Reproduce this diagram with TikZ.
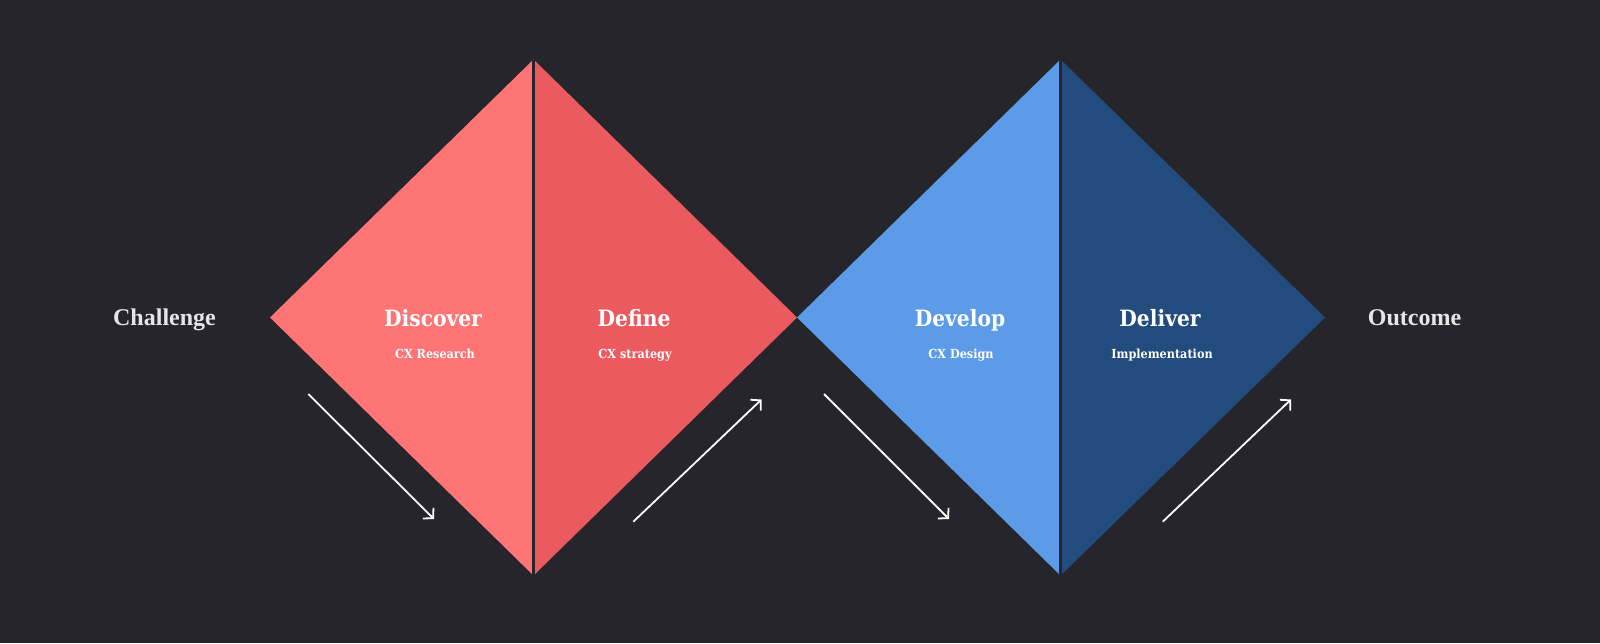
\documentclass[tikz,border=0pt]{standalone}
\usepackage{fontspec}
\setmainfont{DejaVu Serif}
\newfontfamily\headfont{Liberation Serif}
\newfontfamily\stagefont[FakeStretch=0.9]{DejaVu Serif}
\usetikzlibrary{arrows.meta}
\definecolor{bg}{HTML}{26252B}
\definecolor{cDiscover}{HTML}{FF7575}
\definecolor{cDefine}{HTML}{EB5A5F}
\definecolor{cDevelop}{HTML}{5B9BE8}
\definecolor{cDeliver}{HTML}{224B7E}
\definecolor{endtext}{HTML}{E6E6E6}
\tikzset{
  endlabel/.style={text=endtext, font=\headfont\bfseries\fontsize{24}{26}\selectfont, inner sep=0pt, anchor=base},
  stagelabel/.style={text=white, font=\stagefont\bfseries\fontsize{22.5}{25}\selectfont, inner sep=0pt, anchor=base},
  sublabel/.style={text=white, font=\stagefont\bfseries\fontsize{12.5}{14}\selectfont, inner sep=0pt, anchor=base},
  flow/.style={draw=white, line width=1.8pt, -{Straight Barb[length=7pt,width=15pt,line width=1.8pt]}},
  divider/.style={draw=bg, line width=2.8pt}
}
\begin{document}
\begin{tikzpicture}[x=1pt,y=-1pt]
\fill[bg] (0,0) rectangle (1600,643);
\useasboundingbox (0,0) rectangle (1600,643);
% diamond 1
\coordinate (d1t) at (533.5,59.5);
\coordinate (d1b) at (533.5,575.5);
\coordinate (d1l) at (270,317.5);
\coordinate (d1r) at (797,317.5);
% diamond 2
\coordinate (d2t) at (1060.5,59.5);
\coordinate (d2b) at (1060.5,575.5);
\coordinate (d2l) at (797,317.5);
\coordinate (d2r) at (1325,317.5);
\fill[cDiscover] (d1l) -- (d1t) -- (d1b) -- cycle;
\fill[cDefine] (d1t) -- (d1r) -- (d1b) -- cycle;
\fill[cDevelop] (d2l) -- (d2t) -- (d2b) -- cycle;
\fill[cDeliver] (d2t) -- (d2r) -- (d2b) -- cycle;
\draw[divider] (d1t) -- (d1b);
\draw[divider] (d2t) -- (d2b);
% labels
\node[endlabel] (challenge) at (164.5,325.5) {Challenge};
\node[endlabel] (outcome) at (1414.5,325.5) {Outcome};
\node[stagelabel] (discover) at (433,326) {Discover};
\node[stagelabel] (define) at (634,326) {Define};
\node[stagelabel] (develop) at (960,326) {Develop};
\node[stagelabel] (deliver) at (1160,326) {Deliver};
\node[sublabel] (discoversub) at (435,358) {CX Research};
\node[sublabel] (definesub) at (635,358) {CX strategy};
\node[sublabel] (developsub) at (961,358) {CX Design};
\node[sublabel] (deliversub) at (1162,358) {Implementation};
% arrows
\coordinate (a1s) at (308.3,394);
\coordinate (a1e) at (434,519);
\coordinate (a2s) at (633.3,521.7);
\coordinate (a2e) at (761.5,399.5);
\coordinate (a3s) at (824,394);
\coordinate (a3e) at (949,519);
\coordinate (a4s) at (1162.7,521.7);
\coordinate (a4e) at (1291,399.5);
\draw[flow] (a1s) -- (a1e);
\draw[flow] (a2s) -- (a2e);
\draw[flow] (a3s) -- (a3e);
\draw[flow] (a4s) -- (a4e);
\end{tikzpicture}
\end{document}
